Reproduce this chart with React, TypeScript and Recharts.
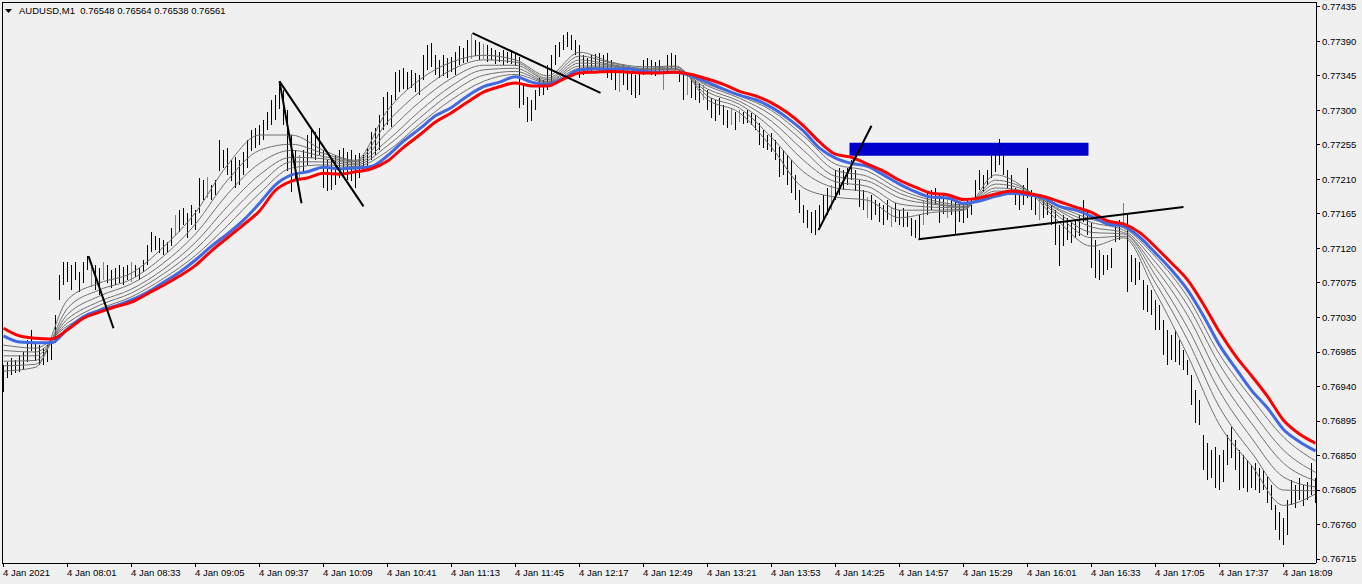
import { Bar, ComposedChart, Line, ReferenceArea, ReferenceLine, XAxis, YAxis } from 'recharts';

// AUDUSD M1, 4 Jan 2021. Prices stored in points (price * 1e5).
// One bar every 2 minutes starting 07:29 (label "4 Jan 2021").
const HIGH = [
  76968, 76972, 76977, 76974, 76981, 76985, 77001, 77014, 76997, 76994,
  76990, 76994, 76998, 77033, 77085, 77102, 77102, 77098, 77102, 77089,
  77102, 77110, 77102, 77098, 77094, 77102, 77098, 77092, 77094, 77098,
  77096, 77098, 77102, 77098, 77094, 77105, 77124, 77141, 77136, 77134,
  77131, 77128, 77147, 77164, 77170, 77173, 77166, 77177, 77170, 77212,
  77209, 77213, 77203, 77209, 77261, 77248, 77251, 77235, 77239, 77235,
  77246, 77261, 77274, 77277, 77281, 77287, 77298, 77314, 77320, 77338,
  77327, 77301, 77268, 77248, 77242, 77248, 77268, 77274, 77272, 77277,
  77248, 77235, 77238, 77242, 77248, 77251, 77246, 77248, 77242, 77244,
  77242, 77251, 77272, 77277, 77294, 77317, 77324, 77320, 77350, 77353,
  77355, 77350, 77353, 77349, 77346, 77372, 77385, 77388, 77372, 77366,
  77372, 77368, 77370, 77376, 77384, 77381, 77392, 77400, 77392, 77389,
  77387, 77385, 77381, 77379, 77376, 77379, 77376, 77379, 77374, 77370,
  77333, 77318, 77314, 77327, 77342, 77340, 77359, 77372, 77385, 77389,
  77398, 77402, 77398, 77392, 77385, 77372, 77368, 77372, 77374, 77375,
  77372, 77375, 77366, 77357, 77355, 77359, 77353, 77349, 77346, 77350,
  77366, 77368, 77366, 77363, 77366, 77353, 77372, 77375, 77372, 77353,
  77350, 77346, 77342, 77340, 77336, 77333, 77327, 77316, 77314, 77316,
  77307, 77301, 77303, 77298, 77301, 77298, 77301, 77297, 77294, 77284,
  77274, 77268, 77271, 77261, 77252, 77248, 77242, 77235, 77216, 77196,
  77177, 77170, 77168, 77170, 77177, 77190, 77199, 77203, 77222, 77225,
  77222, 77225, 77235, 77222, 77209, 77196, 77187, 77190, 77183, 77179,
  77177, 77183, 77174, 77179, 77170, 77173, 77168, 77160, 77157, 77164,
  77183, 77194, 77196, 77199, 77190, 77192, 77190, 77186, 77183, 77179,
  77177, 77183, 77186, 77209, 77222, 77216, 77222, 77242, 77251, 77263,
  77248, 77222, 77216, 77199, 77196, 77203, 77225, 77196, 77190, 77186,
  77183, 77186, 77177, 77170, 77151, 77164, 77160, 77154, 77157, 77164,
  77183, 77170, 77153, 77131, 77118, 77111, 77111, 77120, 77154, 77157,
  77179, 77164, 77111, 77107, 77102, 77079, 77072, 77066, 77053, 77046,
  77027, 77014, 77007, 77014, 77001, 76987, 76974, 76955, 76935, 76922,
  76877, 76866, 76857, 76861, 76851, 76857, 76877, 76887, 76870, 76857,
  76851, 76844, 76838, 76840, 76834, 76831, 76822, 76811, 76785, 76776,
  76768, 76792, 76818, 76811, 76821, 76811, 76815, 76840, 76821,
];

const LOW = [
  76933, 76951, 76955, 76957, 76959, 76961, 76972, 76987, 76974, 76968,
  76968, 76972, 76974, 76997, 77053, 77072, 77076, 77066, 77079, 77063,
  77075, 77092, 77070, 77066, 77059, 77079, 77075, 77068, 77072, 77075,
  77072, 77079, 77076, 77082, 77079, 77089, 77098, 77115, 77118, 77114,
  77111, 77114, 77124, 77137, 77141, 77151, 77134, 77151, 77144, 77166,
  77183, 77186, 77183, 77190, 77220, 77225, 77216, 77207, 77199, 77203,
  77216, 77225, 77246, 77251, 77255, 77261, 77274, 77281, 77287, 77301,
  77281, 77222, 77194, 77209, 77212, 77220, 77229, 77238, 77235, 77242,
  77199, 77194, 77196, 77203, 77212, 77216, 77209, 77207, 77199, 77212,
  77220, 77222, 77235, 77242, 77248, 77274, 77281, 77278, 77314, 77324,
  77327, 77327, 77329, 77324, 77320, 77340, 77353, 77357, 77346, 77342,
  77344, 77342, 77350, 77346, 77359, 77362, 77363, 77368, 77371, 77366,
  77368, 77363, 77366, 77361, 77363, 77359, 77362, 77361, 77358, 77304,
  77307, 77285, 77287, 77301, 77318, 77320, 77327, 77336, 77359, 77370,
  77379, 77383, 77379, 77372, 77342, 77346, 77349, 77350, 77353, 77349,
  77350, 77342, 77340, 77327, 77324, 77333, 77327, 77320, 77316, 77320,
  77346, 77350, 77346, 77345, 77348, 77327, 77350, 77355, 77353, 77337,
  77314, 77320, 77316, 77314, 77310, 77314, 77301, 77290, 77287, 77294,
  77281, 77277, 77281, 77274, 77285, 77282, 77284, 77281, 77274, 77255,
  77251, 77248, 77246, 77235, 77213, 77216, 77203, 77192, 77183, 77166,
  77154, 77147, 77141, 77137, 77147, 77157, 77164, 77170, 77183, 77190,
  77196, 77203, 77209, 77194, 77174, 77170, 77160, 77157, 77164, 77154,
  77151, 77157, 77148, 77154, 77151, 77148, 77149, 77137, 77134, 77132,
  77151, 77164, 77170, 77177, 77154, 77164, 77160, 77164, 77139, 77154,
  77154, 77160, 77164, 77183, 77196, 77194, 77203, 77212, 77220, 77229,
  77216, 77199, 77196, 77177, 77170, 77177, 77186, 77170, 77164, 77157,
  77160, 77164, 77151, 77124, 77098, 77124, 77131, 77127, 77134, 77137,
  77154, 77137, 77094, 77081, 77079, 77085, 77092, 77094, 77128, 77131,
  77151, 77063, 77076, 77072, 77079, 77040, 77037, 77033, 77014, 77014,
  76981, 76968, 76974, 76972, 76968, 76961, 76955, 76916, 76892, 76890,
  76831, 76818, 76821, 76808, 76805, 76815, 76838, 76847, 76831, 76805,
  76808, 76802, 76808, 76805, 76802, 76805, 76788, 76779, 76753, 76740,
  76733, 76746, 76785, 76781, 76792, 76783, 76792, 76798, 76788,
];

// bars drawn in green (index into HIGH/LOW)
const GREEN_BARS = [22, 25, 32, 43, 51, 74, 117, 120, 154, 165, 171, 175, 182, 184, 207, 216, 222, 230, 236, 259, 280];

// slow MAs, one value every 8 minutes
const RED = [
  77016, 77006, 77003, 77002, 77014, 77029, 77037, 77044, 77050, 77061,
  77072, 77084, 77098, 77117, 77134, 77151, 77169, 77196, 77208, 77212,
  77218, 77217, 77220, 77224, 77234, 77252, 77268, 77285, 77297, 77311,
  77324, 77331, 77336, 77332, 77332, 77341, 77349, 77350, 77351, 77350,
  77349, 77349, 77350, 77347, 77341, 77334, 77325, 77319, 77310, 77297,
  77280, 77259, 77243, 77239, 77230, 77221, 77209, 77200, 77192, 77190,
  77184, 77186, 77191, 77195, 77192, 77188, 77181, 77174, 77167, 77156,
  77152, 77141, 77122, 77101, 77079, 77047, 77011, 76980, 76954, 76927,
  76896, 76878, 76866,
];
const BLUE = [
  77006, 76998, 76997, 76997, 77015, 77031, 77039, 77045, 77053, 77063,
  77076, 77089, 77105, 77123, 77139, 77157, 77179, 77203, 77216, 77220,
  77226, 77224, 77225, 77227, 77241, 77260, 77276, 77293, 77304, 77319,
  77331, 77337, 77344, 77337, 77334, 77342, 77353, 77354, 77354, 77354,
  77351, 77350, 77350, 77345, 77337, 77328, 77320, 77314, 77304, 77290,
  77273, 77251, 77238, 77231, 77227, 77216, 77204, 77194, 77187, 77186,
  77179, 77182, 77188, 77192, 77190, 77186, 77175, 77170, 77162, 77152,
  77149, 77135, 77114, 77092, 77066, 77032, 76994, 76964, 76935, 76912,
  76884, 76868, 76856,
];

// fan of faster MAs (G1 fastest), one value every 16 minutes
const G1 = [
  76960, 76965, 77053, 77075, 77088, 77122, 77167, 77229, 77268, 77268,
  77248, 77235, 77300, 77340, 77363, 77372, 77366, 77345, 77376, 77363,
  77357, 77358, 77314, 77297, 77252, 77199, 77187, 77183, 77160, 77167,
  77170, 77216, 77196, 77154, 77123, 77134, 77063, 76981, 76890, 76837,
  76785, 76800,
];
const G2 = [
  76967, 76969, 77042, 77066, 77080, 77110, 77152, 77209, 77248, 77256,
  77244, 77234, 77285, 77324, 77353, 77366, 77363, 77342, 77371, 77362,
  77355, 77357, 77319, 77303, 77265, 77220, 77199, 77194, 77170, 77170,
  77171, 77209, 77196, 77161, 77134, 77136, 77075, 77001, 76913, 76854,
  76805, 76804,
];
const G3 = [
  76973, 76974, 77034, 77058, 77074, 77101, 77139, 77191, 77231, 77248,
  77240, 77233, 77272, 77311, 77342, 77359, 77359, 77340, 77366, 77360,
  77354, 77355, 77324, 77308, 77277, 77235, 77207, 77201, 77178, 77174,
  77173, 77204, 77195, 77165, 77141, 77139, 77085, 77017, 76934, 76873,
  76822, 76809,
];
const G4 = [
  76980, 76980, 77028, 77051, 77067, 77093, 77128, 77175, 77216, 77239,
  77237, 77231, 77261, 77299, 77332, 77353, 77355, 77338, 77362, 77359,
  77353, 77354, 77328, 77312, 77286, 77248, 77214, 77208, 77186, 77178,
  77174, 77199, 77194, 77169, 77148, 77141, 77094, 77033, 76952, 76892,
  76840, 76817,
];
const G5 = [
  76987, 76985, 77023, 77046, 77062, 77087, 77119, 77162, 77203, 77233,
  77233, 77229, 77254, 77290, 77323, 77346, 77351, 77337, 77358, 77358,
  77353, 77353, 77332, 77316, 77294, 77259, 77222, 77214, 77192, 77180,
  77175, 77195, 77192, 77171, 77154, 77144, 77102, 77046, 76969, 76909,
  76857, 76828,
];
const G6 = [
  76994, 76990, 77019, 77041, 77057, 77081, 77111, 77150, 77192, 77225,
  77229, 77227, 77247, 77282, 77314, 77338, 77347, 77336, 77355, 77357,
  77351, 77351, 77334, 77319, 77300, 77267, 77230, 77221, 77197, 77183,
  77177, 77191, 77191, 77174, 77158, 77147, 77109, 77057, 76982, 76925,
  76874, 76843,
];

const TIME_TICKS = [0, 32, 64, 96, 128, 160, 192, 224, 256, 288, 320, 352, 384, 416, 448, 480, 512, 544, 576, 608, 640];
const TIME_LABELS = [
  '4 Jan 2021', '4 Jan 08:01', '4 Jan 08:33', '4 Jan 09:05', '4 Jan 09:37', '4 Jan 10:09', '4 Jan 10:41',
  '4 Jan 11:13', '4 Jan 11:45', '4 Jan 12:17', '4 Jan 12:49', '4 Jan 13:21', '4 Jan 13:53', '4 Jan 14:25',
  '4 Jan 14:57', '4 Jan 15:29', '4 Jan 16:01', '4 Jan 16:33', '4 Jan 17:05', '4 Jan 17:37', '4 Jan 18:09',
];
const PRICE_TICKS = [
  76715, 76760, 76805, 76850, 76895, 76940, 76985, 77030, 77075,
  77120, 77165, 77210, 77255, 77300, 77345, 77390, 77435,
];

// hand-drawn objects: [minute, price] pairs
const TRENDLINES = [
  [[42.5, 77110], [55, 77016]],
  [[138, 77338], [149, 77179]],
  [[138, 77338], [180, 77175]],
  [[234.5, 77401], [298.5, 77323]],
  [[407.5, 77144], [434, 77280]],
  [[457.5, 77132], [590, 77174]],
];
const BOX = { from: 423, to: 542.5, low: 77241, high: 77258 };

const FONT = '"Liberation Sans", Arial, sans-serif';
const GREY = '#707070';

const rows: any[] = HIGH.map((h, k) => ({
  m: k * 2,
  range: [LOW[k], h],
  up: GREEN_BARS.includes(k),
  red: null, blue: null, g1: null, g2: null, g3: null, g4: null, g5: null, g6: null,
}));
RED.forEach((v, j) => { rows[j * 4].red = v; });
BLUE.forEach((v, j) => { rows[j * 4].blue = v; });
[G1, G2, G3, G4, G5, G6].forEach((arr, n) => {
  arr.forEach((v, i) => { rows[i * 8][`g${n + 1}`] = v; });
});

const Stick = (p: any) => {
  const { x, y, width, height, payload } = p;
  const cx = Math.floor(x + width / 2);
  const top = Math.min(y, y + height);
  const h = Math.max(Math.abs(height), 1);
  return (
    <rect x={cx} y={Math.round(top)} width={1} height={Math.round(h)}
      fill={payload.up ? '#00dd00' : '#000'} shapeRendering="crispEdges" />
  );
};

const TimeTick = ({ x, y, payload }: any) => (
  <text x={Math.floor(x)} y={y} dy={7} textAnchor="start" fontSize={9.5} fontFamily={FONT} fill="#000">
    {TIME_LABELS[TIME_TICKS.indexOf(payload.value)]}
  </text>
);

export default function App() {
  return (
    <div style={{ position: 'absolute', left: 0, top: 0, width: 1362, height: 584, background: '#f0f0f0', overflow: 'hidden' }}>
      <ComposedChart width={1362} height={584} data={rows} margin={{ top: 2, right: 0, left: 2, bottom: 0 }}>
        <XAxis
          dataKey="m" type="number" domain={[-0.75, 656.25]} allowDataOverflow
          ticks={TIME_TICKS} interval={0} height={21}
          tick={<TimeTick />} tickSize={4}
          axisLine={{ stroke: '#000', shapeRendering: 'crispEdges' }}
          tickLine={{ stroke: '#000', shapeRendering: 'crispEdges' }}
        />
        <YAxis
          orientation="right" width={46} domain={[76709.8, 77441.5]} allowDataOverflow
          ticks={PRICE_TICKS} interval={0} tickSize={4}
          tickFormatter={(v: number) => (v / 1e5).toFixed(5)}
          tick={{ fill: '#000', fontSize: 9.5, fontFamily: FONT }}
          axisLine={{ stroke: '#000', shapeRendering: 'crispEdges' }}
          tickLine={{ stroke: '#000', shapeRendering: 'crispEdges' }}
        />
        <Bar dataKey="range" barSize={1} shape={<Stick />} isAnimationActive={false} />
        {['g1', 'g2', 'g3', 'g4', 'g5', 'g6'].map((k) => (
          <Line key={k} dataKey={k} type="monotone" stroke={GREY} strokeWidth={1} dot={false}
            activeDot={false} connectNulls isAnimationActive={false} />
        ))}
        <Line dataKey="blue" type="monotone" stroke="#4169e1" strokeWidth={3} dot={false}
          activeDot={false} connectNulls isAnimationActive={false} />
        <Line dataKey="red" type="monotone" stroke="#ff0000" strokeWidth={3} dot={false}
          activeDot={false} connectNulls isAnimationActive={false} />
        <ReferenceArea x1={BOX.from} x2={BOX.to} y1={BOX.low} y2={BOX.high}
          fill="#0000cd" fillOpacity={1} stroke="none" />
        {TRENDLINES.map((seg, i) => (
          <ReferenceLine key={i} segment={[{ x: seg[0][0], y: seg[0][1] }, { x: seg[1][0], y: seg[1][1] }]}
            stroke="#000" strokeWidth={2} />
        ))}
      </ComposedChart>
      <div style={{ position: 'absolute', left: 2, top: 2, width: 1314, height: 561, borderLeft: '1px solid #000', borderTop: '1px solid #000', boxSizing: 'border-box', pointerEvents: 'none' }} />
      <svg width={8} height={6} style={{ position: 'absolute', left: 5, top: 9 }}>
        <polygon points="0,0 7,0 3.5,4" fill="#000" />
      </svg>
      <div style={{ position: 'absolute', left: 19, top: 5, fontFamily: FONT, fontSize: 9.5, lineHeight: '12px', color: '#000', whiteSpace: 'pre' }}>
        {'AUDUSD,M1  0.76548 0.76564 0.76538 0.76561'}
      </div>
    </div>
  );
}
